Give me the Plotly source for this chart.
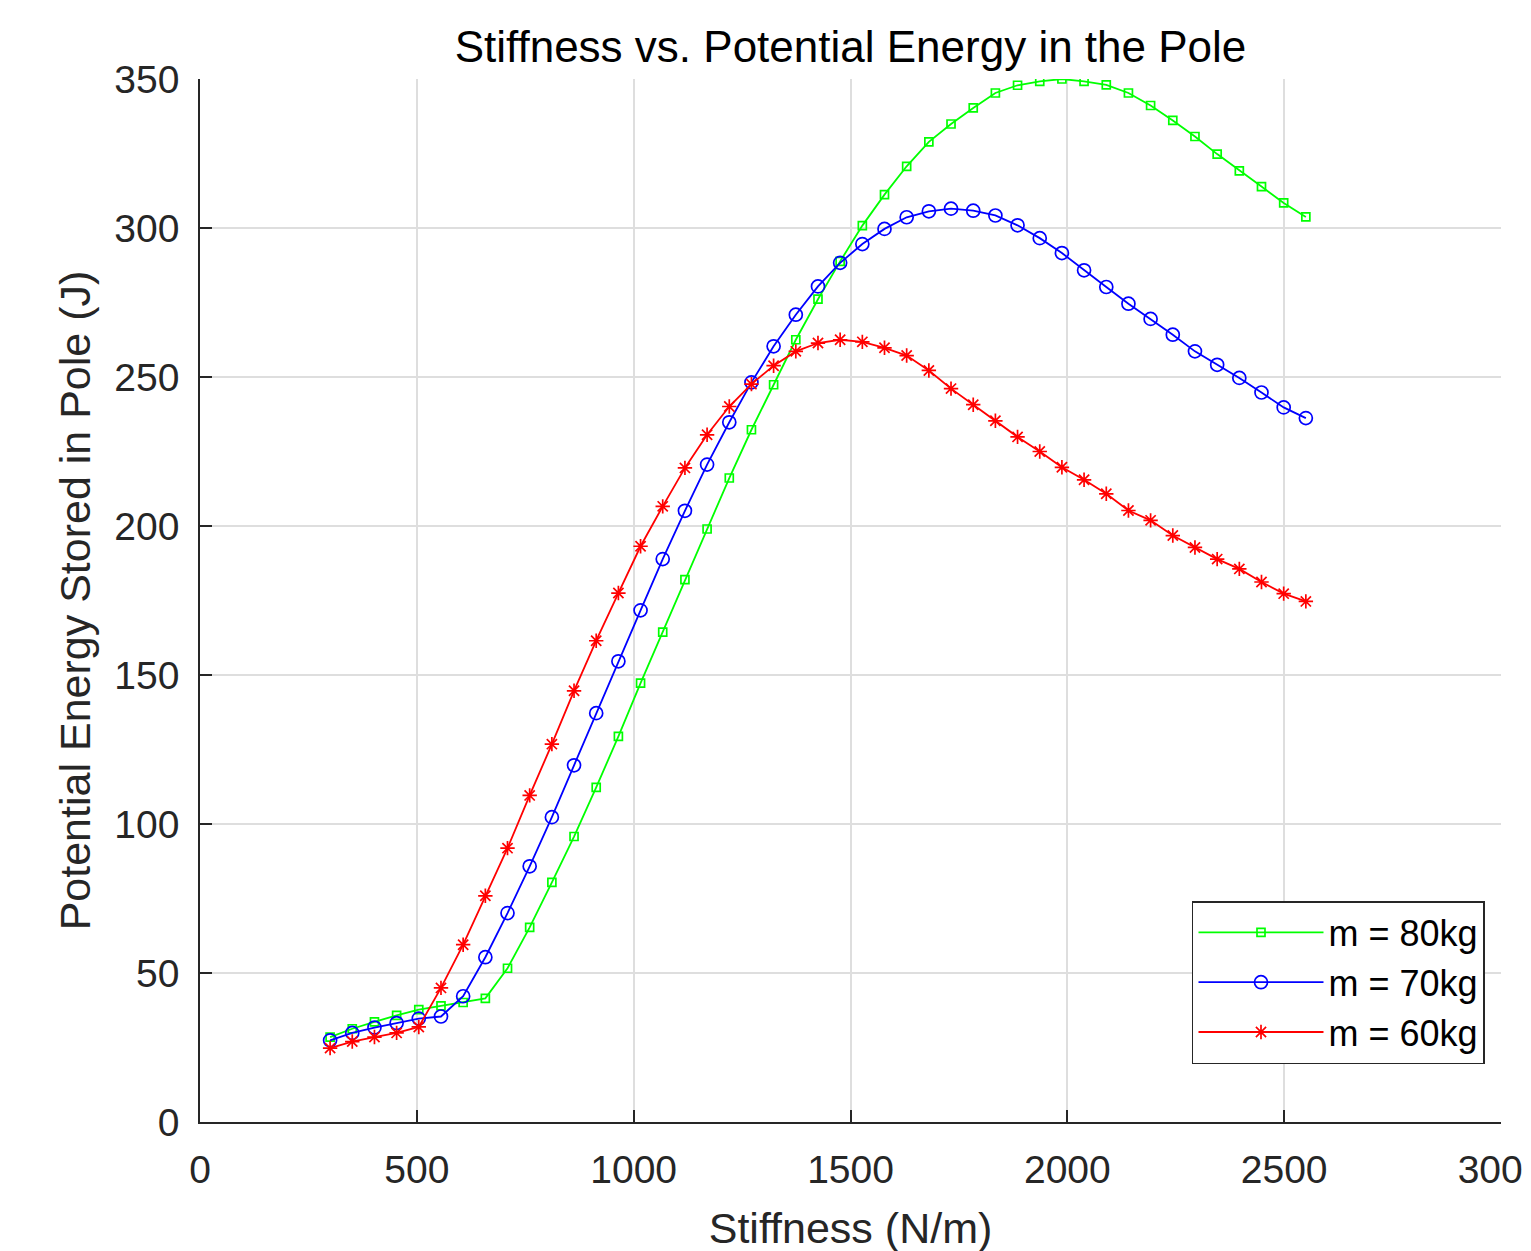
import plotly.graph_objects as go

# Stiffness values (N/m), 45 samples from 300 to 2550
stiffness = [300.0, 351.1, 402.3, 453.4, 504.5, 555.7, 606.8, 658.0, 709.1, 760.2,
             811.4, 862.5, 913.6, 964.8, 1015.9, 1067.0, 1118.2, 1169.3, 1220.5, 1271.6,
             1322.7, 1373.9, 1425.0, 1476.1, 1527.3, 1578.4, 1629.5, 1680.7, 1731.8, 1783.0,
             1834.1, 1885.2, 1936.4, 1987.5, 2038.6, 2089.8, 2140.9, 2192.0, 2243.2, 2294.3,
             2345.5, 2396.6, 2447.7, 2498.9, 2550.0]

energy_80kg = [28.5, 31.3, 33.6, 35.8, 37.7, 39.0, 40.1, 41.5, 51.6, 65.3,
               80.4, 95.8, 112.3, 129.4, 147.3, 164.4, 182.0, 199.0, 216.1, 232.3,
               247.4, 262.5, 276.1, 288.8, 300.8, 311.2, 320.7, 328.9, 334.9, 340.3,
               345.3, 347.9, 349.2, 350.0, 349.2, 348.0, 345.3, 341.1, 336.1, 330.7,
               324.8, 319.2, 313.9, 308.4, 303.7]

energy_70kg = [27.4, 29.9, 31.7, 33.2, 34.7, 35.4, 42.2, 55.3, 70.1, 85.8,
               102.3, 119.7, 137.2, 154.6, 171.7, 188.9, 205.1, 220.6, 234.8, 248.2,
               260.3, 270.9, 280.4, 288.3, 294.6, 299.7, 303.6, 305.6, 306.5, 305.8,
               304.2, 300.9, 296.6, 291.6, 285.8, 280.2, 274.6, 269.5, 264.2, 258.6,
               254.1, 249.7, 244.8, 239.8, 236.2]

energy_60kg = [24.8, 27.0, 28.5, 29.9, 31.9, 45.0, 59.5, 75.9, 91.9, 109.6,
               126.8, 144.7, 161.5, 177.5, 193.2, 206.6, 219.5, 230.6, 240.1, 247.6,
               253.8, 258.6, 261.4, 262.5, 261.8, 259.8, 257.2, 252.2, 246.1, 240.7,
               235.3, 229.9, 225.0, 219.7, 215.5, 210.8, 205.2, 201.9, 196.8, 192.8,
               188.9, 185.6, 181.2, 177.3, 174.7]

series_names = ["m = 80kg", "m = 70kg", "m = 60kg"]
x_ticks = [0, 500, 1000, 1500, 2000, 2500, 3000]
y_ticks = [0, 50, 100, 150, 200, 250, 300, 350]

FONT = "Liberation Sans, Arial, Helvetica, sans-serif"
TXT = "#262626"

fig = go.Figure()
styles = [
    (energy_80kg, "#00ff00", "square-open", 8),
    (energy_70kg, "#0000ff", "circle-open", 13),
    (energy_60kg, "#ff0000", "asterisk-open", 12),
]
for name, (ys, col, sym, sz) in zip(series_names, styles):
    fig.add_trace(go.Scatter(
        x=stiffness, y=ys, name=name, mode="lines+markers",
        line=dict(color=col, width=1.8),
        marker=dict(symbol=sym, size=sz, color=col,
                    line=dict(color=col, width=1.7)),
    ))

fig.update_layout(
    width=1531, height=1251,
    paper_bgcolor="white", plot_bgcolor="white",
    margin=dict(l=192, r=38, t=71, b=137, autoexpand=False),
    font=dict(family=FONT, color=TXT, size=39),
    title=dict(text="Stiffness vs. Potential Energy in the Pole",
               x=0.5, xref="paper", xanchor="center",
               y=1 - 39 / 1251, yref="container", yanchor="middle",
               font=dict(size=44, color="#000000")),
    legend=dict(x=0.9877, y=0.0556, xanchor="right", yanchor="bottom",
                bgcolor="white", bordercolor=TXT, borderwidth=1.5,
                font=dict(size=36, color="#000000"),
                itemwidth=125, tracegroupgap=0),
    showlegend=True,
)
fig.update_xaxes(
    range=[0, 3000], tickvals=x_ticks, ticktext=[str(v) for v in x_ticks],
    showgrid=True, gridcolor="#dedede", gridwidth=1.5,
    showline=True, linecolor=TXT, linewidth=1.5, mirror=False,
    ticks="inside", ticklen=12, tickwidth=1.5, tickcolor=TXT,
    ticklabelstandoff=12, ticklabeloverflow="allow",
    zeroline=False, automargin=True,
    title=dict(text="Stiffness (N/m)", font=dict(size=43, color=TXT), standoff=23),
)
fig.update_yaxes(
    range=[0, 350], tickvals=y_ticks, ticktext=[str(v) for v in y_ticks],
    showgrid=True, gridcolor="#dedede", gridwidth=1.5,
    showline=True, linecolor=TXT, linewidth=1.5, mirror=False,
    ticks="inside", ticklen=12, tickwidth=1.5, tickcolor=TXT,
    ticklabelstandoff=11, ticklabeloverflow="allow",
    zeroline=False, automargin=True,
    title=dict(text="Potential Energy Stored in Pole (J)", font=dict(size=43, color=TXT), standoff=10),
)

fig.write_html("out.html")
